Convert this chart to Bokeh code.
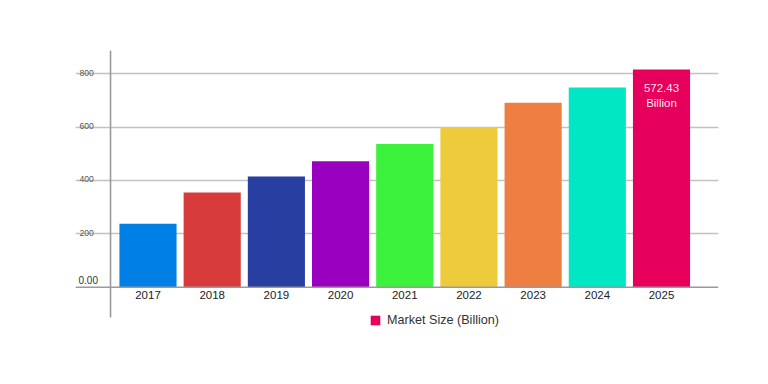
from bokeh.plotting import figure
from bokeh.models import Range1d, Span, Grid, FixedTicker, Legend, LegendItem, ColumnDataSource
from bokeh.core.properties import value
from bokeh.embed import file_html
from bokeh.resources import INLINE

# ---- data ----
years = ["2017", "2018", "2019", "2020", "2021", "2022", "2023", "2024", "2025"]
market_size = [238, 355, 415, 472, 537, 600, 691, 749, 816]
bar_colors = ["#0080e4", "#d63a3a", "#283ea0", "#9a00c0", "#3cf23c",
              "#eecb3c", "#ef7e42", "#00e8c3", "#e6005b"]
bar_notes = ["", "", "", "", "", "", "", "", "572.43\nBillion"]
y_ticks = [200, 400, 600, 800]
y_tick_labels = ["200", "400", "600", "800"]
zero_label = "0.00"
series_name = "Market Size (Billion)"

FONT = "Liberation Sans"

xs = list(range(len(years)))
src = ColumnDataSource(dict(x=xs, top=market_size, color=bar_colors,
                            year=years, note=bar_notes, zero=[0] * len(years)))

x0, x1 = -1.1295, 8.888
y_axis_bottom, y1 = -113.6, 887.3
y0 = -218.6
axis_x = -0.584

p = figure(width=752, height=368,
           x_range=Range1d(x0, x1), y_range=Range1d(y0, y1),
           x_axis_type=None, y_axis_type=None,
           output_backend="svg", toolbar_location=None,
           min_border_left=75, min_border_right=34,
           min_border_top=50, min_border_bottom=23,
           outline_line_color=None, background_fill_color="white",
           border_fill_color="white")

grid = Grid(dimension=1, ticker=FixedTicker(ticks=y_ticks),
            grid_line_color="#c2c2c2", grid_line_width=1.3)
p.add_layout(grid)

p.add_layout(Span(location=0, dimension="width", line_color="#9a9a9a",
                  line_width=1.6))
p.segment(x0=[axis_x], y0=[y_axis_bottom], x1=[axis_x], y1=[y1],
          line_color="#9a9a9a", line_width=1.6)

bars = p.vbar(x="x", top="top", bottom=0, width=0.89, fill_color="color",
              line_color=None, source=src)

# notes inside bars
p.text(x="x", y="top", text="note", source=src, text_align="center",
       text_baseline="middle", y_offset=26, text_font_size="11.5px",
       text_color="#ffffff", text_alpha=0.92, text_line_height=1.3,
       text_font=value(FONT))

# year labels
p.text(x="x", y="zero", text="year", source=src, text_align="center",
       text_baseline="top", y_offset=4, text_font_size="11.5px",
       text_color="#222222", text_font=value(FONT))

# y tick labels
tsrc = ColumnDataSource(dict(y=y_ticks, label=y_tick_labels,
                             x=[x0] * len(y_ticks)))
p.text(x="x", y="y", text="label", source=tsrc, x_offset=4, y_offset=-1,
       text_align="left", text_baseline="middle", text_font_size="8.6px",
       text_color="#555555", text_font=value(FONT))
p.text(x=[x0], y=[0], text=[zero_label], x_offset=3, y_offset=-3,
       text_align="left", text_baseline="bottom", text_font_size="10px",
       text_color="#333333", text_font=value(FONT))

legend = Legend(items=[LegendItem(label=series_name, renderers=[bars], index=8)],
                location=(294, 18), orientation="horizontal",
                border_line_alpha=0, background_fill_alpha=0,
                glyph_width=12, glyph_height=12, label_height=12,
                label_standoff=6, padding=0, margin=0, spacing=0,
                label_text_font=FONT, label_text_font_size="12.6px",
                label_text_color="#333333", label_text_baseline="middle")
p.add_layout(legend)

open("out.html", "w").write(file_html(p, INLINE))
